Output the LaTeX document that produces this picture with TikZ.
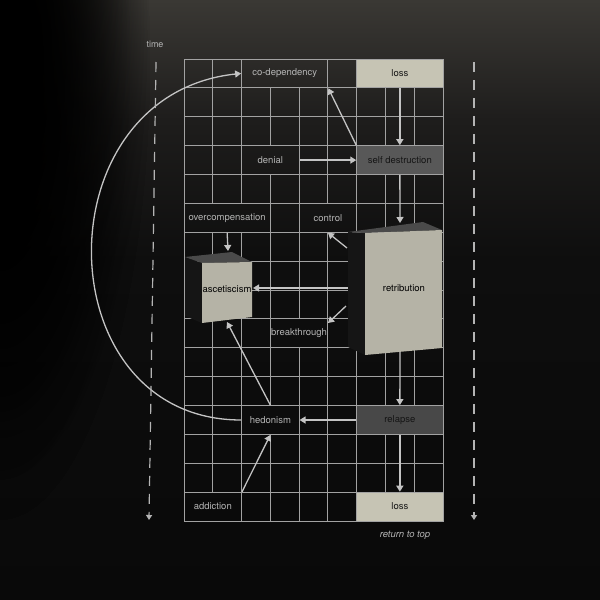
\documentclass[tikz,border=0pt]{standalone}
\usepackage{fontspec}
\setmainfont{TeX Gyre Heros}
\usetikzlibrary{arrows.meta,fadings}
\tikzfading[name=myfadeout, inner color=transparent!0, outer color=transparent!100]
\definecolor{bgtop}{HTML}{3A3834}
\definecolor{bgup}{HTML}{1E1D1C}
\definecolor{bgmid}{HTML}{0E0E0E}
\definecolor{bgbot}{HTML}{090909}
\definecolor{gridc}{HTML}{A2A2A2}
\definecolor{txt}{HTML}{B4B4B4}
\definecolor{arrc}{HTML}{C4C4C4}
\definecolor{beige}{HTML}{C6C4B4}
\definecolor{selfc}{HTML}{585858}
\definecolor{relc}{HTML}{484848}
\definecolor{front}{HTML}{B5B3A6}
\definecolor{topf}{HTML}{4A4A4A}
\definecolor{sidef}{HTML}{151515}
\definecolor{darktxt}{HTML}{151515}
\newcommand\gridrowcells[2]{\foreach \cc in {#2}{\draw[gridline] ({184+\cc*28.78},{59+#1*28.875}) rectangle ++(28.78,28.875);}}
\begin{document}
\begin{tikzpicture}[x=1pt,y=-1pt,
  gridline/.style={draw=gridc, line width=0.9pt},
  cell/.style={draw=gridc, line width=0.9pt, inner sep=0pt, minimum height=28.875pt, text=txt, font=\fontsize{9.5}{11}\selectfont},
  filledcell/.style={cell, text=darktxt},
  arr/.style={draw=arrc, line width=1.3pt, -{Triangle[length=6pt,width=7pt]}},
  dashline/.style={draw=txt, line width=1.2pt, dash pattern=on 10pt off 8pt, -{Triangle[length=5pt,width=6pt]}},
  boxtext/.style={text=black, font=\fontsize{9.5}{11}\selectfont},
  plain/.style={text=txt, font=\fontsize{9}{11}\selectfont}]
\useasboundingbox (0,0) rectangle (600,600);
% background
\shade[top color=bgtop, bottom color=bgup] (0,0) rectangle (600,120);
\shade[top color=bgup, bottom color=bgmid] (0,120) rectangle (600,260);
\shade[top color=bgmid, bottom color=bgbot] (0,260) rectangle (600,600);
\begin{scope}
\clip (0,0) rectangle (600,600);
\fill[black, path fading=myfadeout] (0,60) ellipse (150 and 460);
\fill[black, path fading=myfadeout] (0,60) ellipse (150 and 460);
\fill[black, path fading=myfadeout] (0,60) ellipse (130 and 420);
\end{scope}
% grid cells
\gridrowcells{0}{0,1,5}
\foreach \rr in {1,2,4,6,7,8,10,11,13,14}{\gridrowcells{\rr}{0,1,2,3,4,5,6,7,8}}
\gridrowcells{3}{0,1,4,5}
\gridrowcells{5}{3,6,7,8}
\gridrowcells{9}{0,1,2,5,6,7,8}
\gridrowcells{12}{0,1,4,5}
\gridrowcells{15}{2,3,4,5}
% label cells
\node[cell, minimum width=86.3pt] (codep) at (284.75,73.4) {co-dependency};
\node[filledcell, fill=beige, minimum width=86.3pt] (losstop) at (399.85,73.4) {loss};
\node[cell, minimum width=57.5pt] (denial) at (270.35,160.1) {denial};
\node[filledcell, fill=selfc, minimum width=86.3pt] (selfd) at (399.85,160.1) {self destruction};
\node[cell, minimum width=86.3pt] (overc) at (227.15,217.8) {overcompensation};
\node[cell, minimum width=57.6pt] (control) at (327.9,217.8) {control};
\node[cell, minimum width=57.6pt] (break) at (299.1,333.3) {breakthrough};
\node[cell, minimum width=57.5pt] (hed) at (270.35,420) {hedonism};
\node[filledcell, fill=relc, minimum width=86.3pt] (relapse) at (399.85,420) {relapse};
\node[cell, minimum width=57.6pt] (addict) at (212.8,506.6) {addiction};
\node[filledcell, fill=beige, minimum width=86.3pt] (lossbot) at (399.85,506.6) {loss};
% ascetiscism box
\fill[sidef] (185,257) -- (202,263) -- (202,323) -- (185,316) -- cycle;
\fill[topf] (185,257) -- (202,263) -- (252,262) -- (232,252) -- cycle;
\fill[front] (202,263) -- (252,262) -- (252,317) -- (202,323) -- cycle;
\node[boxtext, inner sep=0pt] (asc) at (227,289) {ascetiscism};
% retribution box
\fill[sidef] (348,232) -- (365,233) -- (365,355) -- (348,347) -- cycle;
\fill[topf] (348,232) -- (365,233) -- (442,230) -- (423,222) -- cycle;
\fill[front] (365,233) -- (442,230) -- (442,348) -- (365,355) -- cycle;
\node[boxtext, inner sep=0pt] (ret) at (404,288) {retribution};
% anchor points on boxes
\coordinate (asctop) at (228,251);
\coordinate (ascright) at (253,288);
\coordinate (ascbot) at (227,322);
\coordinate (rettop) at (400,223);
\coordinate (retleft) at (348,288);
\coordinate (retul) at (347,248);
\coordinate (retll) at (346,306);
\coordinate (retbot) at (400,352);
\coordinate (breakne) at (328,323);
% connectors
\draw[arr] (hed.west) .. controls (45,420) and (40,95) .. (codep.west);
\draw[arr] (losstop.south) -- (selfd.north);
\draw[arr] (selfd.north west) -- (codep.south east);
\draw[arr] (denial.east) -- (selfd.west);
\draw[arr] (selfd.south) -- (rettop);
\draw[arr] (overc.south) -- (asctop);
\draw[arr] (retleft) -- (ascright);
\draw[arr] (retul) -- (control.south);
\draw[arr] (retll) -- (breakne);
\draw[arr] (retbot) -- (relapse.north);
\draw[arr] (relapse.west) -- (hed.east);
\draw[arr] (hed.north) -- (ascbot);
\draw[arr] (addict.north east) -- (hed.south);
\draw[arr] (relapse.south) -- (lossbot.north);
% time lines
\node[plain] (time) at (155,44) {time};
\coordinate (tl1) at (156,62);
\coordinate (tl2) at (149,520);
\draw[dashline] (tl1) -- (tl2);
\coordinate (tr1) at (474,62);
\coordinate (tr2) at (474,520);
\draw[dashline] (tr1) -- (tr2);
\node[plain, font=\fontsize{9.5}{11}\selectfont\itshape] (rtt) at (405,535) {return to top};
\end{tikzpicture}
\end{document}
